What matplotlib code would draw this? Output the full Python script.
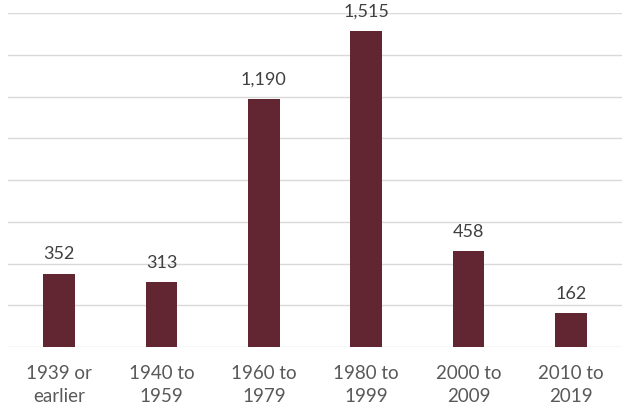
import matplotlib
matplotlib.use("Agg")
import matplotlib.pyplot as plt

categories = ["1939 or\nearlier", "1940 to\n1959", "1960 to\n1979", "1980 to\n1999", "2000 to\n2009", "2010 to\n2019"]
values = [352, 313, 1190, 1515, 458, 162]

BAR_COLOR = "#612632"
GRID_COLOR = "#d9d9d9"
TEXT_COLOR = "#404040"

plt.rcParams['font.family'] = ['Lato', 'DejaVu Sans']

fig = plt.figure(figsize=(6.25, 4.13), dpi=100)
ax = fig.add_axes([0.0128, 0.1598, 0.9824, 0.8087])

x = range(len(categories))
bars = ax.bar(x, values, width=0.31, color=BAR_COLOR, zorder=3)

for xi, v in zip(x, values):
    ax.annotate(f"{v:,}", (xi, v), xytext=(0, 8), textcoords="offset points",
                ha="center", va="bottom", fontsize=13, color=TEXT_COLOR)

ax.set_xlim(-0.5, len(categories) - 0.5)
ax.set_ylim(0, 1600)
ax.set_yticks(range(0, 1601, 200))
ax.yaxis.grid(True, color=GRID_COLOR, linewidth=1, zorder=0)
ax.set_yticklabels([])
ax.tick_params(axis="y", length=0)
ax.tick_params(axis="x", length=0, pad=13, labelsize=13.5, labelcolor="#595959")
ax.set_xticks(list(x))
ax.set_xticklabels(categories, linespacing=1.45)
for s in ax.spines.values():
    s.set_visible(False)

fig.savefig("out.png", dpi=100)
